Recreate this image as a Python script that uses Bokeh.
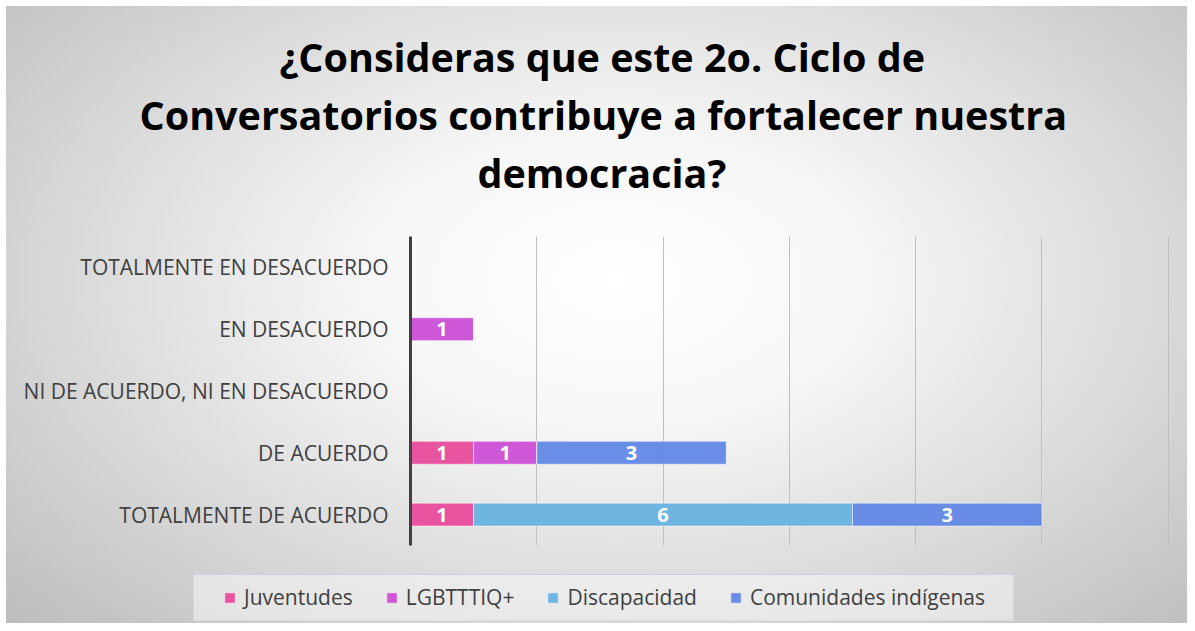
from bokeh.plotting import figure
from bokeh.layouts import column
from bokeh.models import (FactorRange, Range1d, FixedTicker, Legend, LegendItem,
                          ColumnDataSource, Title)
from bokeh.core.properties import value
from bokeh.embed import file_html
from bokeh.resources import INLINE

# ---- data ----
categories = ["TOTALMENTE EN DESACUERDO", "EN DESACUERDO",
              "NI DE ACUERDO, NI EN DESACUERDO", "DE ACUERDO",
              "TOTALMENTE DE ACUERDO"]
series = ["Juventudes", "LGBTTTIQ+", "Discapacidad", "Comunidades indígenas"]
juventudes = [0, 0, 0, 1, 1]
lgbtttiq = [0, 1, 0, 1, 0]
discapacidad = [0, 0, 0, 0, 6]
comunidades = [0, 0, 0, 3, 3]
colors = ["#E84C9C", "#CC4FD6", "#68B2E0", "#6287E6"]
x_ticks = [0, 2, 4, 6, 8, 10, 12]
title_lines = ["¿Consideras que este 2o. Ciclo de",
               "Conversatorios contribuye a fortalecer nuestra",
               "democracia?"]

values = [juventudes, lgbtttiq, discapacidad, comunidades]
keys = ["s0", "s1", "s2", "s3"]
data = {"cat": categories}
for k, v in zip(keys, values):
    data[k] = v
source = ColumnDataSource(data)

W = 1187
p = figure(width=W, height=560, output_backend="svg", toolbar_location=None,
           y_range=FactorRange(*list(reversed(categories)), range_padding=0),
           x_range=Range1d(0, 12.02))
p.border_fill_alpha = 0
p.background_fill_alpha = 0
p.outline_line_color = None
p.min_border_left = 410
p.min_border_right = 18
p.min_border_top = 236
p.min_border_bottom = 15

renderers = p.hbar_stack(keys, y="cat", height=0.37, source=source,
                         color=colors, fill_alpha=0.95,
                         line_color="white", line_alpha=0.5, line_width=1)

# data labels
lx, ly, lt = [], [], []
for i, c in enumerate(categories):
    acc = 0
    for v in values:
        v_i = v[i]
        if v_i:
            lx.append(acc + v_i / 2)
            ly.append(c)
            lt.append(str(v_i))
        acc += v_i
p.text(x=lx, y=ly, text=lt, text_color="white", text_font=value("Open Sans"),
       text_font_style="bold", text_font_size="20px",
       text_align="center", text_baseline="middle")

# axes / grid
p.xaxis.visible = False
p.xgrid.ticker = FixedTicker(ticks=x_ticks)
p.xgrid.grid_line_color = "#BFBFBF"
p.xgrid.grid_line_width = 1
p.ygrid.grid_line_color = None
p.yaxis.axis_line_width = 3
p.yaxis.axis_line_color = "#404040"
p.yaxis.major_tick_line_color = None
p.yaxis.minor_tick_line_color = None
p.yaxis.major_label_standoff = 16
p.yaxis.major_label_text_font = "Open Sans"
p.yaxis.major_label_text_font_size = "21px"
p.yaxis.major_label_text_color = "#404040"

# title: spacer + three lines stacked above the frame (first added = nearest frame)
p.title.visible = False
p.add_layout(Title(text=" ", text_font_size="1px", standoff=33), "above")
offsets = [-131, -271, 67]
for line, off in reversed(list(zip(title_lines, offsets))):
    p.add_layout(Title(text=line, align="left", offset=off, standoff=2,
                       text_font="Open Sans", text_font_size="39.5px",
                       text_font_style="bold", text_color="#000000"), "above")

# legend strip: a second figure whose frame is the legend box
p2 = figure(width=W, height=63, output_backend="svg", toolbar_location=None,
            x_range=Range1d(0, 1), y_range=Range1d(0, 1))
p2.axis.visible = False
p2.grid.visible = False
p2.outline_line_color = None
p2.border_fill_alpha = 0
p2.background_fill_color = "#F8F8F8"
p2.background_fill_alpha = 0.55
p2.min_border_left = 193
p2.min_border_right = W - 1013
p2.min_border_top = 14
p2.min_border_bottom = 3
p2.title.visible = False
for fig in (p, p2):
    try:
        fig.frame_align = False
    except Exception:
        pass
# legend swatches: same styles as the bars, placed far outside the visible range
proxies = [p2.hbar(y=[100], left=[0], right=[1], height=1, fill_color=c,
                   fill_alpha=0.95, line_color="white", line_alpha=0.5)
           for c in colors]
items = [LegendItem(label=s, renderers=[r]) for s, r in zip(series, proxies)]
legend = Legend(items=items, orientation="horizontal", location=(30, 9),
                label_text_font="Open Sans", label_text_font_size="21px",
                label_text_color="#404040", glyph_width=13, glyph_height=13,
                label_standoff=8, spacing=32, padding=8, margin=0,
                background_fill_alpha=0, border_line_color=None)
p2.add_layout(legend, "center")

layout = column(p, p2, spacing=0)
layout.styles = {"background":
                 "linear-gradient(#FFFFFF, #FFFFFF) 0 0 / 100% 6px no-repeat, "
                 "linear-gradient(#FFFFFF, #FFFFFF) 0 0 / 6px 100% no-repeat, "
                 "radial-gradient(ellipse 70% 80% at 52% 45%, #FFFFFF 0%, #F6F6F6 30%, #D6D6D6 70%, #BDBDBD 100%)"}

open("out.html", "w").write(file_html(layout, INLINE))
